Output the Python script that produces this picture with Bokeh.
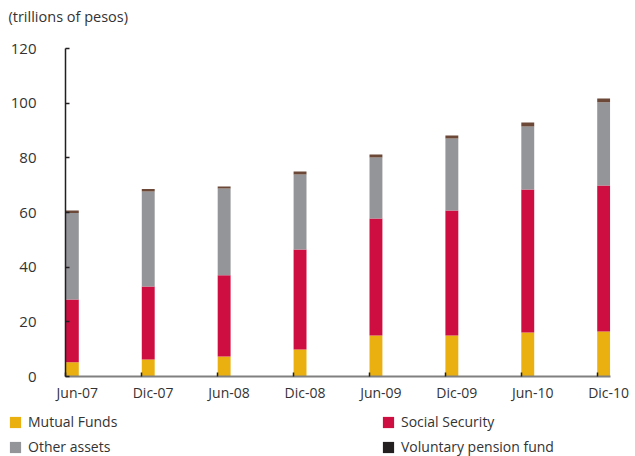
from bokeh.plotting import figure
from bokeh.layouts import column
from bokeh.models import (Range1d, LinearAxis, FixedTicker, Legend, LegendItem,
                          ColumnDataSource)
from bokeh.core.properties import value
from bokeh.embed import file_html
from bokeh.resources import INLINE

periods = ["Jun-07", "Dic-07", "Jun-08", "Dic-08", "Jun-09", "Dic-09", "Jun-10", "Dic-10"]
mutual_funds = [5.2, 6.2, 7.3, 9.9, 15.0, 15.0, 16.1, 16.5]
social_security = [23.0, 26.7, 29.7, 36.6, 42.8, 45.7, 52.3, 53.4]
other_assets = [31.6, 34.8, 31.8, 27.4, 22.3, 26.4, 23.1, 30.4]
voluntary_pension = [0.9, 0.9, 0.7, 1.1, 1.1, 1.1, 1.4, 1.4]
series_names = ["Mutual Funds", "Social Security", "Other assets", "Voluntary pension fund"]
y_ticks = [0, 20, 40, 60, 80, 100, 120]
unit_title = "(trillions of pesos)"

COLORS = ["#E9B010", "#CE0E41", "#949598", "#6B4838"]
LEGEND_COLORS = ["#E9B010", "#CE0E41", "#949598", "#231F20"]
FONT = "Open Sans"
TEXT = "#333333"
W = 635

# ---- title strip ----
pt = figure(width=W, height=32, output_backend="svg", toolbar_location=None,
            x_range=Range1d(0, W), y_range=Range1d(0, 32),
            min_border=0, min_border_left=0, min_border_right=0,
            min_border_top=0, min_border_bottom=0, frame_align=False,
            x_axis_location=None, y_axis_location=None)
pt.outline_line_color = None
pt.grid.visible = False
pt.text(x=[8], y=[16], text=[unit_title], text_font=value(FONT), text_font_size="14.5px",
        text_color=TEXT, text_baseline="middle", text_align="left")

# ---- main chart ----
bar_w = 0.17
xpos = list(range(len(periods)))
src = ColumnDataSource(dict(
    x=[i + bar_w / 2 for i in xpos],
    mf=mutual_funds, ss=social_security, oa=other_assets, vp=voluntary_pension,
))

p = figure(width=W, height=373, output_backend="svg", toolbar_location=None,
           x_range=Range1d(-0.005, 7.175), y_range=Range1d(0, 120),
           min_border_left=65, min_border_right=25, min_border_top=16, min_border_bottom=29,
           frame_align=False, x_axis_location=None, y_axis_location=None)
p.outline_line_color = None
p.grid.visible = False

p.vbar_stack(["mf", "ss", "oa", "vp"], x="x", width=bar_w, source=src,
             color=COLORS, line_color=None)

yax = LinearAxis(ticker=FixedTicker(ticks=y_ticks))
yax.axis_line_color = "#231F20"
yax.axis_line_width = 1.5
yax.major_tick_in = 4
yax.major_tick_out = 0
yax.major_tick_line_color = "#231F20"
yax.major_tick_line_width = 1.5
yax.minor_tick_line_color = None
yax.major_label_standoff = 29
yax.major_label_text_font = FONT
yax.major_label_text_font_size = "15px"
yax.major_label_text_color = TEXT
p.add_layout(yax, "left")

label_pos = [i + 0.15 for i in xpos]
xax = LinearAxis(ticker=FixedTicker(ticks=label_pos, minor_ticks=xpos))
xax.major_label_overrides = {lp: lab for lp, lab in zip(label_pos, periods)}
xax.axis_line_color = "#808080"
xax.axis_line_width = 2
xax.major_tick_line_color = None
xax.major_tick_in = 0
xax.major_tick_out = 0
xax.minor_tick_in = 4
xax.minor_tick_out = 0
xax.minor_tick_line_color = "#231F20"
xax.minor_tick_line_width = 1.5
xax.major_label_standoff = 6
xax.major_label_text_font = FONT
xax.major_label_text_font_size = "14px"
xax.major_label_text_color = TEXT
p.add_layout(xax, "below")

# ---- legend strip ----
pl = figure(width=W, height=51, output_backend="svg", toolbar_location=None,
            x_range=Range1d(0, 1), y_range=Range1d(0, 1),
            min_border=0, min_border_left=0, min_border_right=0,
            min_border_top=0, min_border_bottom=0, frame_align=False,
            x_axis_location=None, y_axis_location=None)
pl.outline_line_color = None
pl.grid.visible = False
items = []
for name, c in zip(series_names, LEGEND_COLORS):
    dummy = ColumnDataSource(dict(x=[float("nan")], top=[float("nan")]))
    r = pl.vbar(x="x", top="top", width=0.1, source=dummy, color=c, line_color=None)
    items.append(LegendItem(label=name, renderers=[r]))
legend = Legend(items=items, orientation="horizontal", ncols=2,
                location=(8, 0), glyph_width=14, glyph_height=14,
                label_standoff=6, label_width=347, label_height=14, spacing=6,
                padding=0, margin=0, border_line_color=None, background_fill_alpha=0,
                label_text_font=FONT, label_text_font_size="14px", label_text_color=TEXT)
pl.add_layout(legend)

layout = column(pt, p, pl, spacing=0)
open("out.html", "w").write(file_html(layout, INLINE))
